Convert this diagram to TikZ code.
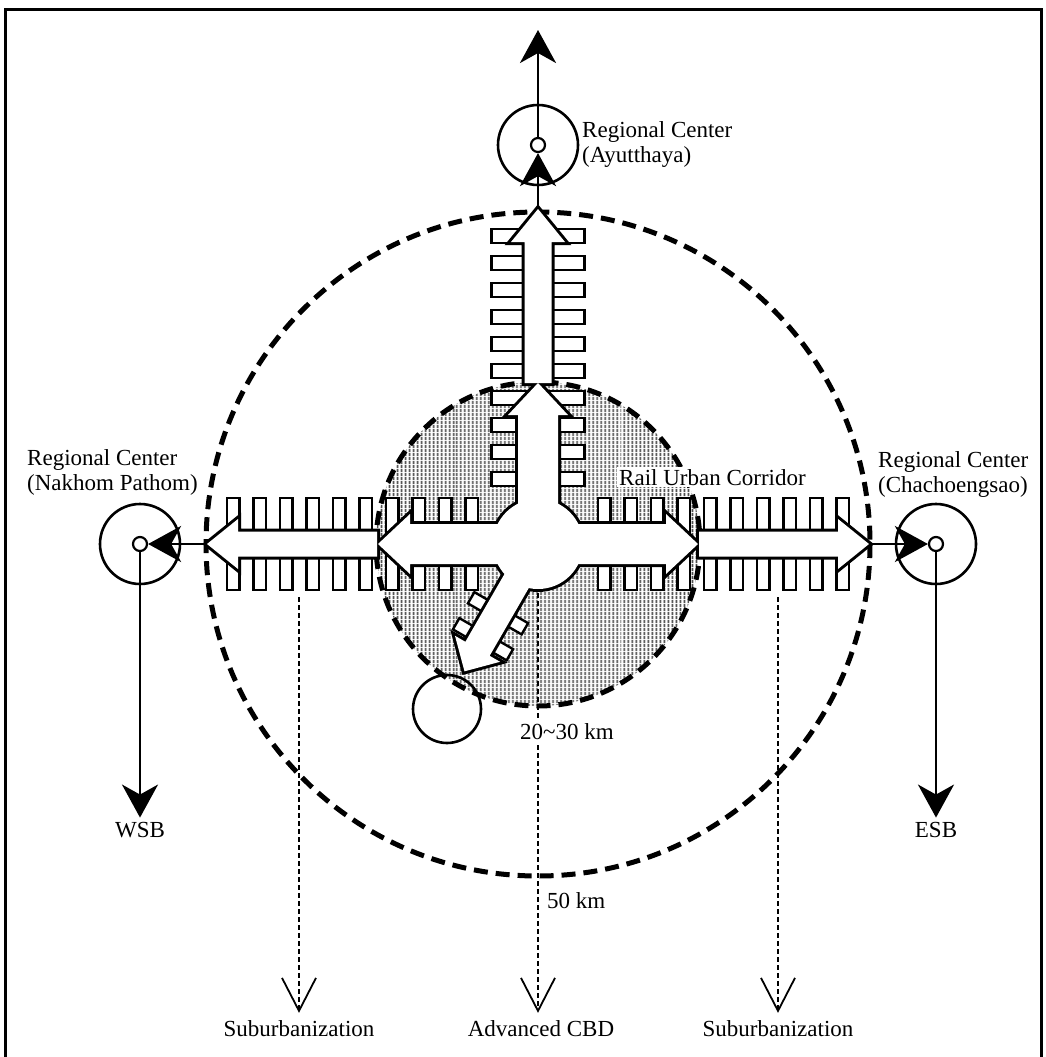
\documentclass[tikz,border=0pt]{standalone}
\usepackage{fontspec}
\setmainfont{Liberation Serif}
\usetikzlibrary{arrows.meta,patterns.meta}

\tikzset{
  bar/.style={draw, fill=white, line width=2.4pt},
  ring/.style={circle, draw, line width=2.6pt, minimum size=80pt, inner sep=0pt},
  dot/.style={circle, draw, fill=white, line width=2.2pt, minimum size=14pt, inner sep=0pt},
  link/.style={line width=2.8pt, -{Stealth[length=33pt,width=36pt,inset=10pt]}},
  flow/.style={line width=2pt, dash pattern=on 5pt off 3pt,
    -{Straight Barb[length=33pt,width=34pt,line width=1.8pt]}},
  zone/.style={line width=5pt, dash pattern=on 14pt off 8pt},
  lbl/.style={font=\fontsize{23}{25}\selectfont, inner sep=0pt, align=left},
}

% corridor arms and hub, #1 = draw or fill pass
\newcommand\corridors[1]{%
  \path[#1] (538,544) circle [radius=45];
  \path[#1] (518,544) -- (518,415) -- (508,415) -- (538,383) -- (568,415) -- (558,415) -- (558,544) -- cycle;
  \path[#1] (538,524) -- (410,524) -- (410,514) -- (378,544) -- (410,574) -- (410,564) -- (538,564) -- cycle;
  \path[#1] (538,524) -- (666,524) -- (666,514) -- (698,544) -- (666,574) -- (666,564) -- (538,564) -- cycle;
  \path[#1] (524.5,383) -- (524.5,242) -- (511,242) -- (538,209) -- (565,242) -- (551.5,242) -- (551.5,383) -- cycle;
  \path[#1] (377,531.5) -- (238,531.5) -- (238,519) -- (207,544) -- (238,569) -- (238,556.5) -- (377,556.5) -- cycle;
  \path[#1] (699,531.5) -- (838,531.5) -- (838,519) -- (869,544) -- (838,569) -- (838,556.5) -- (699,556.5) -- cycle;
  \begin{scope}[shift={(538,544)},rotate=-120]
    \path[#1] (0,-14) -- (121,-14) -- (121,-26) -- (147,0) -- (121,26) -- (121,14) -- (0,14) -- cycle;
  \end{scope}
}

\begin{document}
\begin{tikzpicture}[x=1pt,y=-1pt]
\useasboundingbox (0,0) rectangle (1046,1057);
% Frame
\draw[line width=3pt] (5,1057) -- (5,10) -- (1041,10) -- (1041,1057);
% Zones
\fill[pattern={Lines[angle=90,distance=4pt,line width=2.2pt]}, pattern color=black!70] (538,544) circle [radius=162];
\draw[zone] (538,544) circle [radius=332];
% Bars along the corridors
\foreach \k in {0,...,9}{
  \pgfmathsetmacro\bx{227+26.5*\k}
  \draw[bar] (\bx,498) rectangle ++(12.5,92);
  \draw[bar] (1076-\bx,498) rectangle ++(-12.5,92);
  \pgfmathsetmacro\by{229+27*\k}
  \draw[bar] (491.5,\by) rectangle ++(93,14);
}
\begin{scope}[shift={(538,544)},rotate=-120]
  \foreach \d in {73.5,103.5}{
    \draw[bar] (\d,0) rectangle ++(13,31);
    \draw[bar] (\d,0) rectangle ++(13,-31);
  }
\end{scope}
\draw[zone] (538,544) circle [radius=162];
% Corridor arms
\corridors{draw, line width=6pt}
\corridors{fill=white}
% Regional centers
\node[ring] (nRing) at (538,145) {};
\node[dot] (nDot) at (538,145) {};
\node[ring] (wRing) at (140,544) {};
\node[dot] (wDot) at (140,544) {};
\node[ring] (eRing) at (936,544) {};
\node[dot] (eDot) at (936,544) {};
\node[ring, minimum size=68pt] (sRing) at (447,709) {};
\coordinate (nTip) at (538,209);
\coordinate (wTip) at (207,544);
\coordinate (eTip) at (869,544);
\coordinate (nEnd) at (538,30);
% Labels
\node[lbl, anchor=north west] (nLbl) at (582,121) {Regional Center\\(Ayutthaya)};
\node[lbl, anchor=north west] (wLbl) at (27,449) {Regional Center\\(Nakhom Pathom)};
\node[lbl, anchor=north west] (eLbl) at (878,451) {Regional Center\\(Chachoengsao)};
\node[lbl, anchor=base west, fill=white, inner sep=2pt] (rail) at (617,485) {Rail Urban Corridor};
\node[lbl, anchor=base] (wsb) at (140,837) {WSB};
\node[lbl, anchor=base] (esb) at (936,837) {ESB};
\node[lbl, anchor=base] (sub1) at (299,1036) {Suburbanization};
\node[lbl, anchor=base] (cbd) at (541,1036) {Advanced CBD};
\node[lbl, anchor=base] (sub2) at (778,1036) {Suburbanization};
% Links to regional centers
\draw[link] (nTip) -- (nDot.south);
\draw[link] (nDot.north) -- (nEnd);
\draw[link] (wTip) -- (wDot.east);
\draw[link] (eTip) -- (eDot.west);
\draw[link, shorten >=4pt] (wDot.south) -- (wsb.north);
\draw[link, shorten >=4pt] (eDot.south) -- (esb.north);
% Flows
\coordinate (s1Top) at (299,597);
\coordinate (s2Top) at (778,597);
\coordinate (hubS) at (538,593);
\draw[flow, shorten >=7pt] (s1Top) -- (sub1.north);
\draw[flow, shorten >=7pt] (s2Top) -- (sub2.north);
\draw[flow, shorten >=7pt] (hubS) -- (hubS |- cbd.north);
\node[lbl, anchor=base, fill=white, inner sep=3pt] (km20) at (567,739) {20\textasciitilde 30 km};
\node[lbl, anchor=base west] (km50) at (547,908) {50 km};
\end{tikzpicture}
\end{document}
